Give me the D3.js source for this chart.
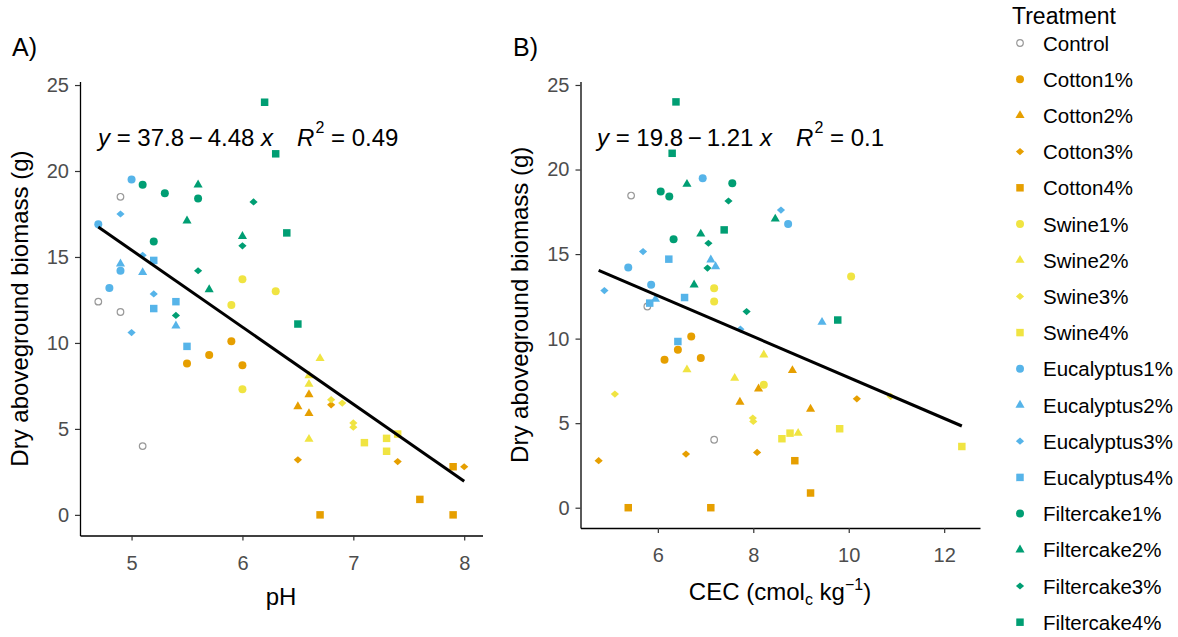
<!DOCTYPE html>
<html><head><meta charset="utf-8">
<script src="https://cdn.jsdelivr.net/npm/d3@7"></script>
<style>
body{margin:0;background:#fff}
text{font-family:"Liberation Sans",Arial,Helvetica,sans-serif}
</style>
</head><body>
<svg id="chart" width="1178" height="637"></svg>
<script>
// ---------- data ----------
const treatments = ["Control","Cotton1%","Cotton2%","Cotton3%","Cotton4%","Swine1%","Swine2%","Swine3%","Swine4%",
  "Eucalyptus1%","Eucalyptus2%","Eucalyptus3%","Eucalyptus4%","Filtercake1%","Filtercake2%","Filtercake3%","Filtercake4%"];
const treatmentColors = ["#999999","#E69F00","#E69F00","#E69F00","#E69F00","#F0E442","#F0E442","#F0E442","#F0E442",
  "#56B4E9","#56B4E9","#56B4E9","#56B4E9","#009E73","#009E73","#009E73","#009E73"];
const treatmentShapes = ["open","circle","triangle","diamond","square","circle","triangle","diamond","square",
  "circle","triangle","diamond","square","circle","triangle","diamond","square"];

// Panel A: pH vs biomass
const phTreatment = [
 "Control","Control","Control","Control",
 "Cotton1%","Cotton1%","Cotton1%","Cotton1%",
 "Cotton2%","Cotton2%","Cotton2%",
 "Cotton3%","Cotton3%","Cotton3%","Cotton3%",
 "Cotton4%","Cotton4%","Cotton4%","Cotton4%",
 "Swine1%","Swine1%","Swine1%","Swine1%",
 "Swine2%","Swine2%","Swine2%","Swine2%",
 "Swine3%","Swine3%","Swine3%","Swine3%",
 "Swine4%","Swine4%","Swine4%","Swine4%",
 "Eucalyptus1%","Eucalyptus1%","Eucalyptus1%","Eucalyptus1%",
 "Eucalyptus2%","Eucalyptus2%","Eucalyptus2%",
 "Eucalyptus3%","Eucalyptus3%","Eucalyptus3%","Eucalyptus3%",
 "Eucalyptus4%","Eucalyptus4%","Eucalyptus4%","Eucalyptus4%",
 "Filtercake1%","Filtercake1%","Filtercake1%","Filtercake1%",
 "Filtercake2%","Filtercake2%","Filtercake2%","Filtercake2%",
 "Filtercake3%","Filtercake3%","Filtercake3%","Filtercake3%",
 "Filtercake4%","Filtercake4%","Filtercake4%","Filtercake4%"];
const phValue = [
 4.7,4.9,4.9,5.1,
 5.9,5.7,5.5,6.0,
 6.6,6.5,6.6,
 6.8,6.5,7.4,8.0,
 7.9,7.6,6.7,7.9,
 6.0,5.9,6.3,6.0,
 6.7,6.6,6.6,6.6,
 6.8,6.9,7.0,7.0,
 7.1,7.3,7.4,7.3,
 5.0,4.7,4.9,4.8,
 4.9,5.1,5.4,
 4.9,5.1,5.2,5.0,
 5.2,5.4,5.2,5.5,
 5.1,5.3,5.6,5.2,
 5.6,5.5,6.0,5.7,
 6.1,6.0,5.6,5.4,
 6.2,6.3,6.4,6.5];
const phBiomass = [
 12.4,18.5,11.8,4.0,
 10.1,9.3,8.8,8.7,
 7.0,6.3,5.9,
 6.4,3.2,3.1,2.8,
 2.8,0.9,0,0,
 13.7,12.2,13.0,7.3,
 9.1,8.1,7.6,4.4,
 6.7,6.5,5.35,5.1,
 4.2,4.45,4.7,3.7,
 19.5,16.9,14.2,13.2,
 14.6,14.1,11.0,
 17.5,15.1,12.85,10.6,
 14.8,12.4,12.0,9.8,
 19.2,18.7,18.4,15.9,
 19.2,17.1,16.2,13.1,
 18.2,15.65,14.2,11.6,
 24.0,21.0,16.4,11.1];

// Panel B: CEC vs biomass
const cecTreatment = [
 "Control","Control","Control",
 "Cotton1%","Cotton1%","Cotton1%","Cotton1%",
 "Cotton2%","Cotton2%","Cotton2%","Cotton2%",
 "Cotton3%","Cotton3%","Cotton3%","Cotton3%",
 "Cotton4%","Cotton4%","Cotton4%","Cotton4%",
 "Swine1%","Swine1%","Swine1%","Swine1%",
 "Swine2%","Swine2%","Swine2%","Swine2%",
 "Swine3%","Swine3%","Swine3%","Swine3%",
 "Swine4%","Swine4%","Swine4%","Swine4%",
 "Eucalyptus1%","Eucalyptus1%","Eucalyptus1%","Eucalyptus1%",
 "Eucalyptus2%","Eucalyptus2%","Eucalyptus2%","Eucalyptus2%",
 "Eucalyptus3%","Eucalyptus3%","Eucalyptus3%","Eucalyptus3%",
 "Eucalyptus4%","Eucalyptus4%","Eucalyptus4%","Eucalyptus4%",
 "Filtercake1%","Filtercake1%","Filtercake1%","Filtercake1%",
 "Filtercake2%","Filtercake2%","Filtercake2%","Filtercake2%",
 "Filtercake3%","Filtercake3%","Filtercake3%","Filtercake3%",
 "Filtercake4%","Filtercake4%","Filtercake4%","Filtercake4%"];
const cecValue = [
 5.44,5.78,7.18,
 6.70,6.42,6.14,6.90,
 8.82,8.11,7.72,9.20,
 10.17,6.59,8.08,4.76,
 8.87,9.20,5.38,7.11,
 10.05,7.18,7.18,8.22,
 8.22,6.61,7.61,8.94,
 5.10,10.88,7.99,8.00,
 8.60,8.77,9.81,12.37,
 6.94,8.73,5.38,5.86,
 7.11,7.21,9.44,5.95,
 8.58,5.69,4.88,7.73,
 6.23,6.56,5.83,6.42,
 7.56,6.06,6.24,6.33,
 6.61,8.46,6.90,6.76,
 7.48,7.06,7.04,7.86,
 6.38,6.30,7.39,9.77];
const cecBiomass = [
 18.46,11.9,4.02,
 10.12,9.34,8.75,8.85,
 8.12,7.03,6.25,5.83,
 6.44,3.17,3.27,2.78,
 2.78,0.87,0,0,
 13.67,12.19,12.98,7.27,
 9.04,8.16,7.66,4.41,
 6.72,6.58,5.3,5.1,
 4.08,4.41,4.67,3.62,
 19.49,16.78,14.2,13.18,
 14.66,14.26,10.97,12.33,
 17.6,15.15,12.84,10.56,
 14.7,12.43,12.1,9.83,
 19.19,18.7,18.4,15.88,
 19.13,17.08,16.19,13.18,
 18.14,15.64,14.17,11.6,
 24.0,20.96,16.43,11.1];

const phFit = [37.8, -4.48];   // intercept, slope
const phR2 = "0.49";
const cecFit = [19.8, -1.21];
const cecR2 = "0.1";

const phTicks = [5,6,7,8];
const cecTicks = [6,8,10,12];
const biomassTicks = [0,5,10,15,20,25];

// ---------- drawing ----------
const svg = d3.select("#chart");
const tickColor = "#4D4D4D";

function expand(ext){ const r = ext[1]-ext[0]; return [ext[0]-0.05*r, ext[1]+0.05*r]; }

function shapePath(s){
  switch(s){
    case "circle": return d3.symbol(d3.symbolCircle, Math.PI*16)();
    case "open": return d3.symbol(d3.symbolCircle, Math.PI*3.3*3.3)();
    case "triangle": return d3.symbol(d3.symbolTriangle, 36)();
    case "square": return d3.symbol(d3.symbolSquare, 56)();
    case "diamond": return "M0,-3.6L4.1,0L0,3.6L-4.1,0Z";
  }
}
function styleFor(t){
  const i = treatments.indexOf(t);
  return {color: treatmentColors[i], shape: treatmentShapes[i]};
}

function panel(cfg){
  const g = svg.append("g");
  const x = d3.scaleLinear().domain(expand(d3.extent(cfg.xs))).range([cfg.left, cfg.right]);
  const y = d3.scaleLinear().domain(expand(d3.extent(cfg.ys))).range([cfg.bottom, cfg.top]);

  // axes
  const ya = g.append("g").attr("transform",`translate(${cfg.left},0)`)
    .call(d3.axisLeft(y).tickValues(biomassTicks).tickFormat(d3.format("d")).tickSize(5).tickSizeOuter(0).tickPadding(6));
  const xa = g.append("g").attr("transform",`translate(0,${cfg.bottom})`)
    .call(d3.axisBottom(x).tickValues(cfg.ticks).tickFormat(d3.format("d")).tickSize(5).tickSizeOuter(0).tickPadding(15));
  [ya,xa].forEach(a=>{
    a.select(".domain").attr("stroke","#000").attr("stroke-width",1.3);
    a.selectAll(".tick line").attr("stroke","#333").attr("stroke-width",1.2);
    a.selectAll(".tick text").attr("fill",tickColor).attr("font-size",20)
      .attr("font-family",'"Liberation Sans",Arial,sans-serif');
  });

  // points
  cfg.xs.forEach((xv,i)=>{
    const st = styleFor(cfg.trt[i]);
    const p = g.append("path").attr("d",shapePath(st.shape))
      .attr("transform",`translate(${x(xv)},${y(cfg.ys[i])})`);
    if(st.shape==="open") p.attr("fill","none").attr("stroke",st.color).attr("stroke-width",1.2);
    else p.attr("fill",st.color);
  });

  // regression line
  const ex = d3.extent(cfg.xs);
  const linePts = ex.map(v=>[v, cfg.fit[0]+cfg.fit[1]*v]);
  g.append("path").attr("d", d3.line().x(d=>x(d[0])).y(d=>y(d[1]))(linePts))
    .attr("fill","none").attr("stroke","#000").attr("stroke-width",3);

  // equation
  const eq = g.append("text").attr("x",cfg.eqX).attr("y",146).attr("font-size",24).attr("fill","#000");
  eq.append("tspan").attr("font-style","italic").text("y");
  eq.append("tspan").text(` = ${cfg.fit[0]}\u2009\u2212\u2009${Math.abs(cfg.fit[1])} `);
  eq.append("tspan").attr("font-style","italic").text("x");
  eq.append("tspan").attr("font-style","italic").attr("dx",24).text("R");
  eq.append("tspan").attr("font-size",16).attr("dy",-13).attr("dx",1).text("2");
  eq.append("tspan").attr("dy",13).text(` = ${cfg.r2}`);

  // y title
  g.append("text").attr("transform",`translate(${cfg.yTitleX},${(cfg.top+cfg.bottom)/2}) rotate(-90)`)
    .attr("text-anchor","middle").attr("font-size",24).attr("fill","#000")
    .text("Dry aboveground biomass (g)");

  // panel label
  g.append("text").attr("x",cfg.labelX).attr("y",56).attr("font-size",25).attr("fill","#000").text(cfg.label);
  return {g,x,y};
}

const A = panel({xs:phValue, ys:phBiomass, trt:phTreatment, fit:phFit, r2:phR2, ticks:phTicks,
  left:80, right:482.5, top:81.6, bottom:535.5, eqX:98, yTitleX:28, labelX:12, label:"A)"});
A.g.append("text").attr("x",281).attr("y",605).attr("text-anchor","middle").attr("font-size",24).text("pH");

const B = panel({xs:cecValue, ys:cecBiomass, trt:cecTreatment, fit:cecFit, r2:cecR2, ticks:cecTicks,
  left:580.5, right:980, top:81.6, bottom:528, eqX:597, yTitleX:528, labelX:513, label:"B)"});
const bt = B.g.append("text").attr("x",780).attr("y",600).attr("text-anchor","middle").attr("font-size",24);
bt.append("tspan").text("CEC (cmol");
bt.append("tspan").attr("font-size",16).attr("dy",5).text("c");
bt.append("tspan").attr("dy",-5).text(" kg");
bt.append("tspan").attr("font-size",16).attr("dy",-10).text("\u22121");
bt.append("tspan").attr("dy",10).text(")");

// legend
const lg = svg.append("g");
lg.append("text").attr("x",1012).attr("y",24).attr("font-size",23).text("Treatment");
treatments.forEach((t,i)=>{
  const yy = 43 + i*36.2;
  const st = styleFor(t);
  const p = lg.append("path").attr("d",shapePath(st.shape)).attr("transform",`translate(1020,${yy})`);
  if(st.shape==="open") p.attr("fill","none").attr("stroke",st.color).attr("stroke-width",1.2);
  else p.attr("fill",st.color);
  lg.append("text").attr("x",1043).attr("y",yy+7.5).attr("font-size",20.5).text(t);
});
</script>
</body></html>
